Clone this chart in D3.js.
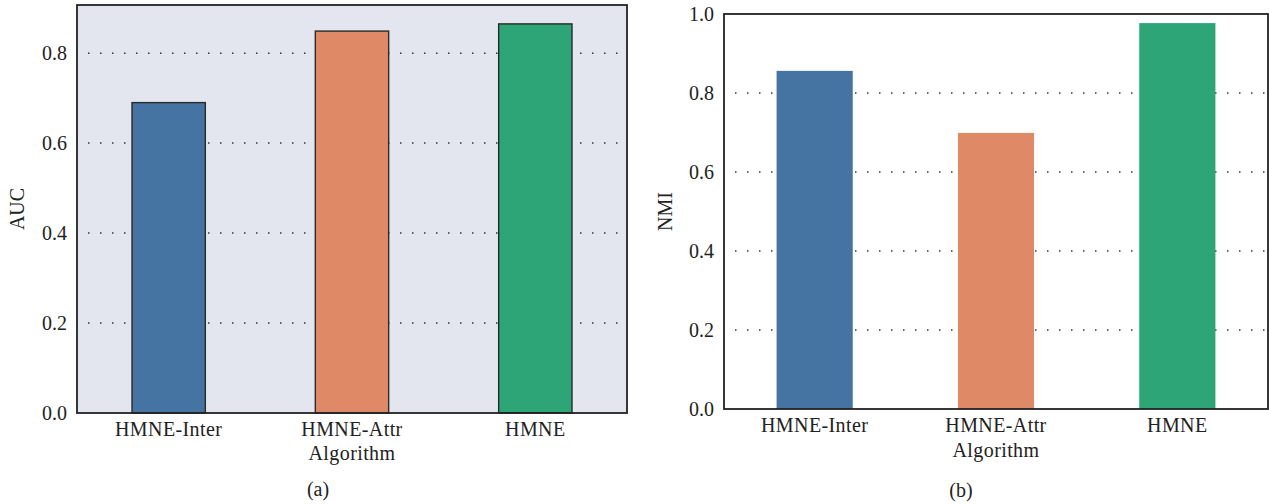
<!DOCTYPE html>
<html>
<head>
<meta charset="utf-8">
<script src="https://cdn.jsdelivr.net/npm/d3@7"></script>
<style>
  body { margin: 0; background: #fff; }
  text { font-family: "Liberation Serif", "Times New Roman", serif; fill: #222; }
</style>
</head>
<body>
<svg width="1269" height="504"></svg>
<script>
var algorithms = ["HMNE-Inter", "HMNE-Attr", "HMNE"];
var barColors = ["#4574a3", "#e08966", "#2ea576"];
var aucValues = [0.690, 0.849, 0.865];
var nmiValues = [0.856, 0.699, 0.977];
var yTicks = [0, 0.2, 0.4, 0.6, 0.8, 1.0];

var svg = d3.select("svg");

function panel(opt) {
  var width = opt.right - opt.left,
      height = opt.bottom - opt.top,
      g = svg.append("g").attr("transform", "translate(" + opt.left + "," + opt.top + ")");

  var x = d3.scaleBand()
      .domain(algorithms)
      .range([0, width])
      .paddingInner(opt.pad)
      .paddingOuter(opt.pad / 2);

  var y = d3.scaleLinear()
      .domain([0, opt.ymax])
      .range([height, 0]);

  // background
  g.append("rect")
      .attr("width", width)
      .attr("height", height)
      .attr("fill", opt.bg);

  // dotted grid
  g.selectAll(".grid")
    .data(yTicks.filter(function(d) { return d > 0 && d < opt.ymax - 0.01; }))
    .enter().append("line")
      .attr("class", "grid")
      .attr("x1", 0)
      .attr("x2", width)
      .attr("y1", function(d) { return y(d); })
      .attr("y2", function(d) { return y(d); })
      .attr("stroke", "#333")
      .attr("stroke-width", 1.5)
      .attr("stroke-dasharray", "1.5,10.5")
      .attr("stroke-dashoffset", -11);

  // bars
  g.selectAll(".bar")
    .data(opt.values)
    .enter().append("rect")
      .attr("class", "bar")
      .attr("x", function(d, i) { return x(algorithms[i]); })
      .attr("width", x.bandwidth())
      .attr("y", function(d) { return y(d); })
      .attr("height", function(d) { return height - y(d); })
      .attr("fill", function(d, i) { return barColors[i]; })
      .attr("stroke", opt.barStroke ? "#2a2a2a" : "none")
      .attr("stroke-width", 1.4);

  // frame
  g.append("rect")
      .attr("width", width)
      .attr("height", height)
      .attr("fill", "none")
      .attr("stroke", "#222")
      .attr("stroke-width", 1.8);

  // y axis
  var yAxis = g.append("g")
      .call(d3.axisLeft(y)
        .tickValues(yTicks.filter(function(d) { return d <= opt.ymax; }))
        .tickFormat(d3.format(".1f"))
        .tickSize(0)
        .tickPadding(10));
  yAxis.select(".domain").remove();
  yAxis.selectAll("text")
      .attr("font-size", "20px")
      .attr("font-family", "Liberation Serif, serif")
      .attr("fill", "#222");

  // x axis
  var xAxis = g.append("g")
      .attr("transform", "translate(0," + height + ")")
      .call(d3.axisBottom(x).tickSize(0).tickPadding(9));
  xAxis.select(".domain").remove();
  xAxis.selectAll("text")
      .attr("font-size", "20px")
      .attr("font-family", "Liberation Serif, serif")
      .attr("letter-spacing", "0.4px")
      .attr("fill", "#222")
      .attr("dy", "0.7em");

  // axis titles
  g.append("text")
      .attr("transform", "translate(" + opt.ylabelX + "," + (height / 2) + ") rotate(-90)")
      .attr("text-anchor", "middle")
      .attr("font-size", "20px")
      .text(opt.ylabel);

  g.append("text")
      .attr("x", width / 2)
      .attr("y", opt.algY - opt.top)
      .attr("text-anchor", "middle")
      .attr("font-size", "20px")
      .attr("letter-spacing", "0.4px")
      .text("Algorithm");

  g.append("text")
      .attr("x", width / 2 + opt.capDx)
      .attr("y", opt.capY - opt.top)
      .attr("text-anchor", "middle")
      .attr("font-size", "20px")
      .text(opt.caption);
}

panel({
  left: 77, right: 627, top: 5, bottom: 413,
  ymax: 0.907, values: aucValues, bg: "#e3e6ef", barStroke: true, pad: 0.6,
  ylabel: "AUC", ylabelX: -53, algY: 460, capY: 496, capDx: -34, caption: "(a)"
});

panel({
  left: 724, right: 1268, top: 14, bottom: 409,
  ymax: 1.0, values: nmiValues, bg: "#fff", barStroke: false, pad: 0.58,
  ylabel: "NMI", ylabelX: -52, algY: 457, capY: 497, capDx: -35, caption: "(b)"
});
</script>
</body>
</html>
